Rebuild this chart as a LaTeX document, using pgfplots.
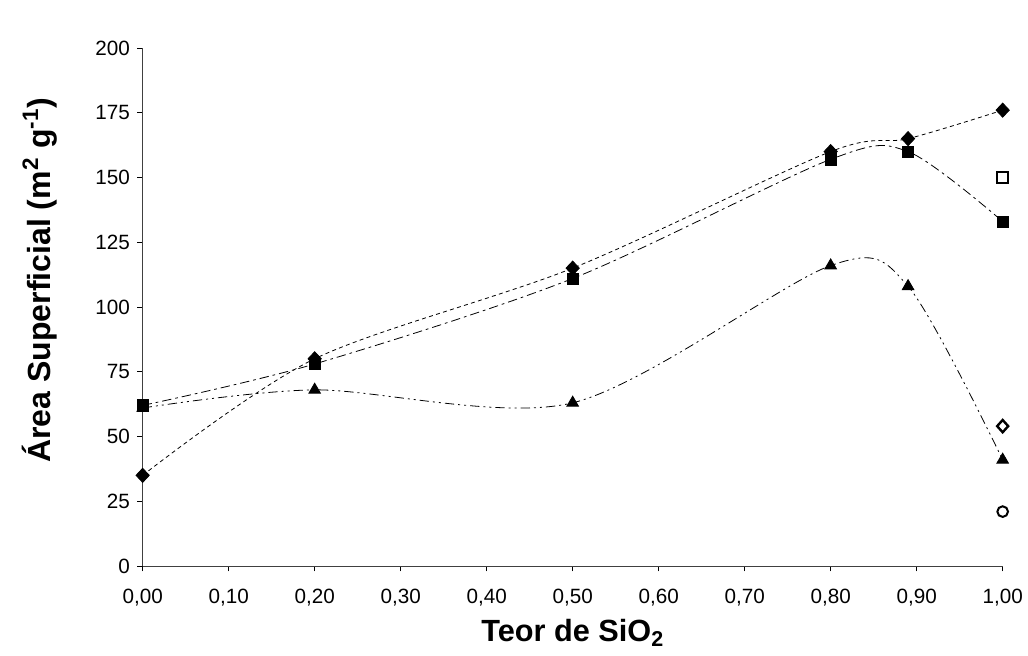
\documentclass[border=0pt]{standalone}
\usepackage{pgfplots}
\pgfplotsset{compat=1.18}
\usepackage{fontspec}
\setmainfont{Liberation Sans}
\begin{document}
\begin{tikzpicture}
\path[use as bounding box] (-107pt,-67.5pt) rectangle (664pt,424.5pt);
\begin{axis}[
  at={(0,0)}, anchor=south west,
  scale only axis, width=645pt, height=388.5pt,
  xmin=0, xmax=1, ymin=0, ymax=200,
  axis x line=bottom, axis y line=left,
  axis line style={-, line width=0.5pt, black!75},
  tick align=outside, major tick length=4pt,
  tick style={black, line width=0.5pt},
  xtick={0,0.1,0.2,0.3,0.4,0.5,0.6,0.7,0.8,0.9,1.0},
  xticklabels={{0,00},{0,10},{0,20},{0,30},{0,40},{0,50},{0,60},{0,70},{0,80},{0,90},{1,00}},
  ytick={0,25,50,75,100,125,150,175,200},
  yticklabels={0,25,50,75,100,125,150,175,200},
  tick label style={font=\fontsize{15.5}{18}\selectfont},
  xticklabel style={yshift=-10pt},
  yticklabel style={xshift=-2pt},
  xlabel={\bfseries Teor de SiO\textsubscript{2}},
  ylabel={\bfseries Área Superficial (m\textsuperscript{2} g\textsuperscript{-1})},
  label style={font=\fontsize{24}{28}\selectfont},
  xlabel style={yshift=-3pt, font=\fontsize{23}{26}\selectfont},
  ylabel style={yshift=22pt, xshift=20pt},
  clip=false,
]
\addplot[black, line width=0.6pt, smooth, tension=0.5,
  dash pattern=on 3pt off 2.5pt,
  mark=diamond*, mark size=5.3pt, mark options={solid, fill=black, xscale=1.25}]
  coordinates {(0,35) (0.2,80) (0.5,115) (0.8,160) (0.89,165) (1.0,176)};
\addplot[black, line width=0.6pt, smooth, tension=0.5,
  dash pattern=on 7pt off 3pt on 2pt off 3pt,
  mark=square*, mark size=4.2pt, mark options={solid, fill=black}]
  coordinates {(0,62) (0.2,78) (0.5,111) (0.8,157) (0.89,160) (1.0,133)};
\addplot[black, line width=0.6pt, smooth, tension=0.5,
  dash pattern=on 7pt off 3pt on 1.5pt off 3pt on 1.5pt off 3pt,
  mark=triangle*, mark size=5pt, mark options={solid, fill=black}]
  coordinates {(0,61) (0.2,68) (0.5,63) (0.8,116) (0.89,108) (1.0,41)};
\addplot[only marks, black, mark=square, mark size=4pt, mark options={line width=1.6pt}]
  coordinates {(1.0,150)};
\addplot[only marks, black, mark=diamond, mark size=4.6pt, mark options={line width=1.8pt, xscale=1.2}]
  coordinates {(1.0,54)};
\addplot[only marks, black, mark=o, mark size=4pt, mark options={line width=1.5pt}]
  coordinates {(1.0,21)};
\end{axis}
\end{tikzpicture}
\end{document}
